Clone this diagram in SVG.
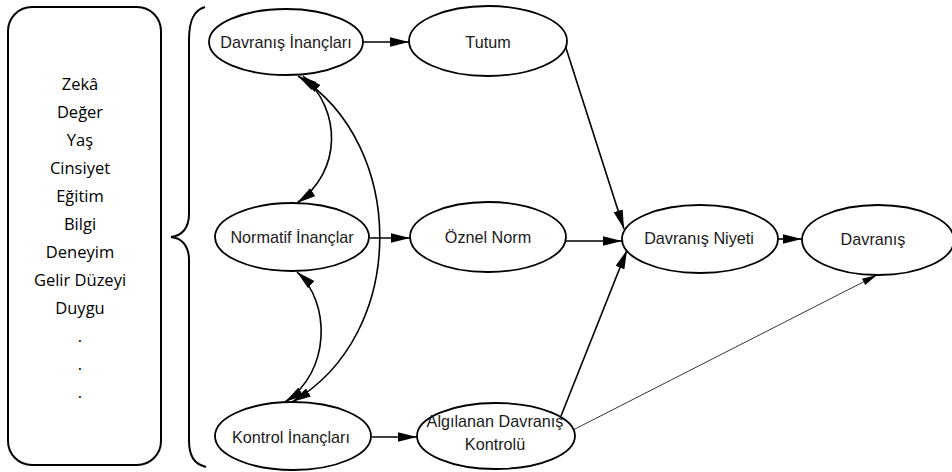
<svg xmlns="http://www.w3.org/2000/svg" width="952" height="472" viewBox="0 0 952 472">
<style>
.node ellipse{fill:#fff;stroke:#000;stroke-width:1.8}
.lbl{font-family:"Liberation Sans",Arial,sans-serif;font-size:16.2px;fill:#1a1a1a;text-anchor:middle}
.list{font-family:"Open Sans","Noto Sans",sans-serif;font-size:16.5px;fill:#000;text-anchor:middle}
.edge{fill:none;stroke:#000;stroke-width:1.6}
.thin{fill:none;stroke:#000;stroke-width:0.8}
</style>
<defs>
<marker id="ah" markerUnits="userSpaceOnUse" markerWidth="19" markerHeight="10" refX="19" refY="4.75" orient="auto-start-reverse">
<path d="M0,0 L19,4.75 L0,9.5 z" fill="#000"/>
</marker>
<marker id="ahs" markerUnits="userSpaceOnUse" markerWidth="15" markerHeight="8" refX="15" refY="3.5" orient="auto">
<path d="M0,0 L15,3.5 L0,7 z" fill="#000"/>
</marker>
</defs>
<rect width="952" height="472" fill="#fff"/>
<g id="factors">
<rect x="8" y="7" width="153" height="458" rx="24" fill="none" stroke="#000" stroke-width="2"/>
<text class="list" x="80" y="90">Zekâ</text>
<text class="list" x="80" y="118">Değer</text>
<text class="list" x="80" y="146">Yaş</text>
<text class="list" x="80" y="174">Cinsiyet</text>
<text class="list" x="80" y="202">Eğitim</text>
<text class="list" x="80" y="230">Bilgi</text>
<text class="list" x="80" y="258">Deneyim</text>
<text class="list" x="80" y="286">Gelir Düzeyi</text>
<text class="list" x="80" y="314">Duygu</text>
<text class="list" x="80" y="342">.</text>
<text class="list" x="80" y="370">.</text>
<text class="list" x="80" y="398">.</text>
</g>
<g id="brace">
<path d="M205,7 C194,10 189,20 189,40 L189,214 C189,229 181,236 171,237 C181,238 189,245 189,260 L189,440 C189,456 194,464 206,467" fill="none" stroke="#000" stroke-width="2"/>
</g>
<g id="connectors">
<line class="edge" x1="363" y1="42" x2="409" y2="42" marker-end="url(#ah)"/>
<line class="edge" x1="370" y1="238" x2="410" y2="238" marker-end="url(#ah)"/>
<line class="edge" x1="372" y1="437" x2="417" y2="437" marker-end="url(#ah)"/>
<line class="edge" x1="565" y1="45" x2="624" y2="229" marker-end="url(#ah)"/>
<line class="edge" x1="566" y1="241" x2="622" y2="241" marker-end="url(#ah)"/>
<line class="edge" x1="561" y1="416" x2="627" y2="250" marker-end="url(#ah)"/>
<line class="edge" x1="777" y1="239" x2="802" y2="239" marker-end="url(#ah)"/>
<line class="thin" x1="573" y1="430" x2="877" y2="275" marker-end="url(#ahs)"/>
<path class="edge" d="M303,76 C342,110 342,172 297,203" marker-start="url(#ah)" marker-end="url(#ah)"/>
<path class="edge" d="M297,272 C331,302 331,372 285,402" marker-start="url(#ah)" marker-end="url(#ah)"/>
<path class="edge" d="M298,76 C408,145 408,335 292,402" marker-start="url(#ah)" marker-end="url(#ah)"/>
</g>
<g id="n_davranis_inanclari" class="node"><ellipse cx="286" cy="42" rx="77" ry="33"/><text class="lbl" x="286" y="48">Davranış İnançları</text></g>
<g id="n_tutum" class="node"><ellipse cx="488" cy="41" rx="79" ry="35"/><text class="lbl" x="488" y="48">Tutum</text></g>
<g id="n_normatif" class="node"><ellipse cx="292" cy="237" rx="77" ry="34"/><text class="lbl" x="292" y="243">Normatif İnançlar</text></g>
<g id="n_oznel" class="node"><ellipse cx="488" cy="237" rx="78" ry="35"/><text class="lbl" x="488" y="243">Öznel Norm</text></g>
<g id="n_kontrol" class="node"><ellipse cx="293" cy="436" rx="78" ry="34"/><text class="lbl" x="291" y="443">Kontrol İnançları</text></g>
<g id="n_algilanan" class="node"><ellipse cx="496" cy="436" rx="79" ry="33"/><text class="lbl" x="495" y="427">Algılanan Davranış</text><text class="lbl" x="495" y="450">Kontrolü</text></g>
<g id="n_niyet" class="node"><ellipse cx="700" cy="239" rx="78" ry="34"/><text class="lbl" x="699" y="244">Davranış Niyeti</text></g>
<g id="n_davranis" class="node"><ellipse cx="878" cy="240" rx="76" ry="35"/><text class="lbl" x="873" y="245">Davranış</text></g>
</svg>
